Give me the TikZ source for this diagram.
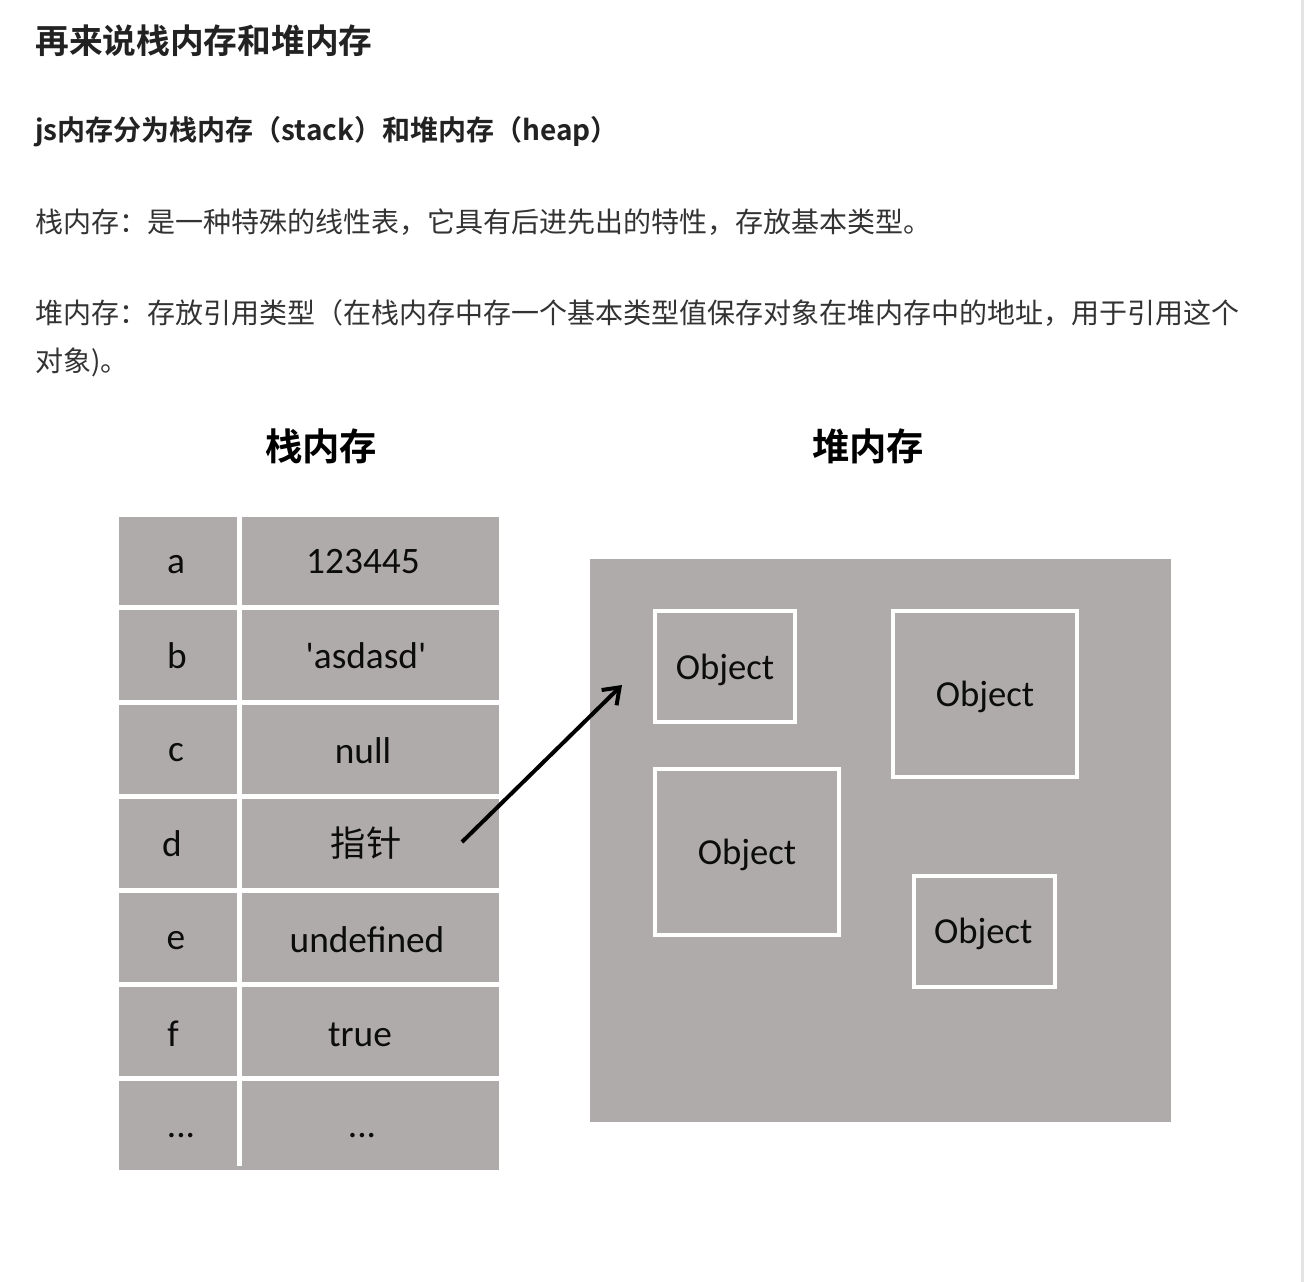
\documentclass[tikz,border=0pt]{standalone}
\usepackage{fontspec}
\usetikzlibrary{arrows.meta}
\newfontfamily\cjkreg{Noto Sans CJK SC}
\newfontfamily\cjkbold{Noto Sans CJK SC Bold}
\newfontfamily\carlitofont{Carlito}
\definecolor{memgray}{RGB}{175,171,171}
\definecolor{headcol}{RGB}{34,34,34}
\definecolor{bodycol}{RGB}{51,51,51}
\definecolor{edgecol}{RGB}{228,228,228}
\definecolor{celltext}{RGB}{12,12,12}
\begin{document}
\begin{tikzpicture}[x=0.75pt,y=-0.75pt,
  heading/.style={anchor=west,inner sep=0pt,text=headcol,font=\cjkbold\fontsize{25.3}{30}\selectfont},
  subheading/.style={anchor=west,inner sep=0pt,text=headcol,font=\cjkbold\fontsize{21}{25}\selectfont},
  bodytext/.style={anchor=west,inner sep=0pt,text=bodycol,font=\cjkreg\fontsize{21}{25}\selectfont},
  boxtitle/.style={inner sep=0pt,text=black,font=\cjkbold\fontsize{28}{30}\selectfont},
  celltxt/.style={inner sep=0pt,text=celltext,font=\carlitofont\fontsize{28}{30}\selectfont},
  gapline/.style={draw=white,line width=3.75pt},
  objbox/.style={draw=white,line width=3pt,fill=memgray,inner sep=0pt},
  objtxt/.style={inner sep=0pt,text=celltext,font=\carlitofont\fontsize{27.5}{30}\selectfont},
  pointer/.style={draw=black,line width=3pt,-{Straight Barb[length=11pt,width=16pt]}}
]
\fill[white] (0,0) rectangle (1304,1282);
\useasboundingbox (0,0) rectangle (1304,1282);
\fill[edgecol] (1301,0) rectangle (1304,1282);

% texts
\node[heading] (title) at (35,41) {再来说栈内存和堆内存};
\node[subheading] (sub) at (35,132) {js内存分为栈内存（stack）和堆内存（heap）};
\node[bodytext] (p1) at (35,222) {栈内存：是一种特殊的线性表，它具有后进先出的特性，存放基本类型。};
\node[bodytext] (p2) at (35,313) {堆内存：存放引用类型（在栈内存中存一个基本类型值保存对象在堆内存中的地址，用于引用这个};
\node[bodytext] (p3) at (35,362) {对象)。};

\node[boxtitle] (stacktitle) at (321,446) {栈内存};
\node[boxtitle] (heaptitle) at (868,446) {堆内存};

% stack table
\fill[memgray] (119,517) rectangle (499,1170);
\foreach \yy in {607.5,702.5,796.5,890.5,984.5,1078.5}
  \draw[gapline] (119,\yy) -- (499,\yy);
\draw[gapline] (239,517) -- (239,1166);

\node[celltxt] (ka) at (176,565) {a};
\node[celltxt] (va) at (363,562) {123445};
\node[celltxt] (kb) at (177,656) {b};
\node[celltxt] (vb) at (366,656) {'asdasd'};
\node[celltxt] (kc) at (176,753) {c};
\node[celltxt] (vc) at (363,751) {null};
\node[celltxt] (kd) at (172,844) {d};
\node[inner sep=0pt,text=celltext,font=\cjkreg\fontsize{26.5}{28}\selectfont] (vd) at (366,843) {指针};
\node[celltxt] (ke) at (176,941) {e};
\node[celltxt] (ve) at (367,940) {undefined};
\node[celltxt] (kf) at (173,1034) {f};
\node[celltxt] (vf) at (360,1035) {true};
\node[celltxt] (kg) at (181,1136) {...};
\node[celltxt] (vg) at (362,1136) {...};

% heap
\fill[memgray] (590,559) rectangle (1171,1122);
\node[objbox,minimum width=105pt,minimum height=83.25pt] (obj1) at (725,666.5) {};
\node[objbox,minimum width=138pt,minimum height=124.5pt] (obj2) at (985,694) {};
\node[objbox,minimum width=138pt,minimum height=124.5pt] (obj3) at (747,852) {};
\node[objbox,minimum width=105.75pt,minimum height=83.25pt] (obj4) at (984.5,931.5) {};
\node[objtxt] (obj1txt) at ([yshift=-2.5pt]obj1.center) {Object};
\node[objtxt] (obj2txt) at ([yshift=-2.5pt]obj2.center) {Object};
\node[objtxt] (obj3txt) at ([yshift=-2pt]obj3.center) {Object};
\node[objtxt] (obj4txt) at ([yshift=-1.5pt,xshift=-1pt]obj4.center) {Object};

% pointer arrow
\coordinate (ptrstart) at (462,842);
\coordinate (ptrend) at (622,685);
\draw[pointer] (ptrstart) -- (ptrend);
\end{tikzpicture}
\end{document}
